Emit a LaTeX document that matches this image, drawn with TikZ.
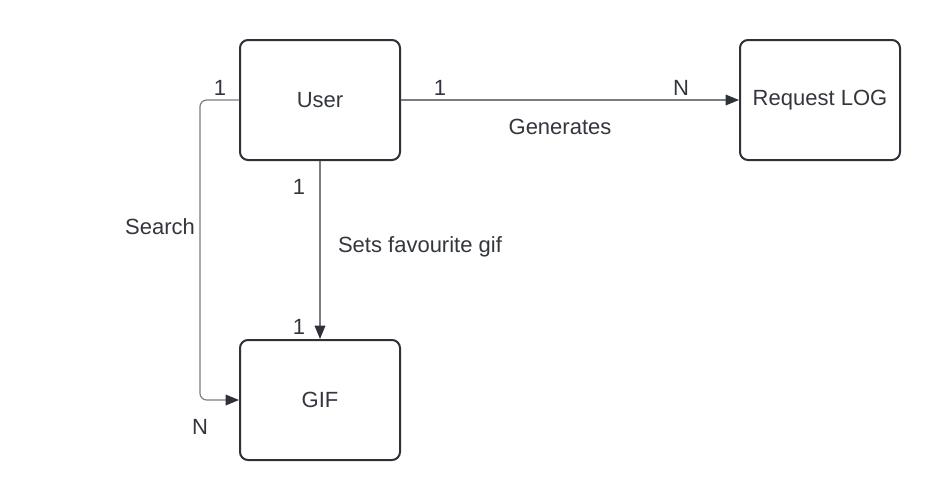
\documentclass[tikz,border=0pt]{standalone}
\usepackage{fontspec}
\setmainfont{Liberation Sans}
\usetikzlibrary{arrows.meta}
\definecolor{boxline}{HTML}{2E3138}
\definecolor{conn}{HTML}{7A7D84}
\definecolor{txt}{HTML}{33363D}
\begin{document}
\begin{tikzpicture}[x=0.75pt,y=-0.75pt,
  entity/.style={draw=boxline,line width=1.5pt,rounded corners=6pt,minimum width=120pt,minimum height=90pt,inner sep=0pt,text=txt,font=\fontsize{16.5}{20}\selectfont},
  lbl/.style={text=txt,font=\fontsize{16.5}{20}\selectfont,inner sep=0pt},
  conline/.style={draw=conn,line width=0.9pt},
  arr/.style={-{Triangle[length=10pt,width=8pt,color=boxline,fill=boxline]}}]
\useasboundingbox (0,0) rectangle (940,500);
\node[entity] (user) at (320,100) {User};
\node[entity] (gif) at (320,400) {GIF};
\node[entity] (req) at (820,100) {Request LOG};
\coordinate (c1) at (200,100);
\coordinate (c2) at (200,400);
\draw[conline,arr,rounded corners=5pt] (user.west) -- (c1) -- (c2) -- (gif.west);
\draw[conline,arr] (user.south) -- (gif.north);
\draw[conline,arr] (user.east) -- (req.west);
\node[lbl] (l1) at (220,88) {1};
\node[lbl] (lsearch) at (160,227) {Search};
\node[lbl] (lN1) at (200,427) {N};
\node[lbl] (l2) at (299,187) {1};
\node[lbl] (l3) at (299,327) {1};
\node[lbl] (lsets) at (420,247) {Sets favourite gif};
\node[lbl] (l4) at (440,88) {1};
\node[lbl] (lN2) at (681,88) {N};
\node[lbl] (lgen) at (560,127) {Generates};
\end{tikzpicture}
\end{document}
